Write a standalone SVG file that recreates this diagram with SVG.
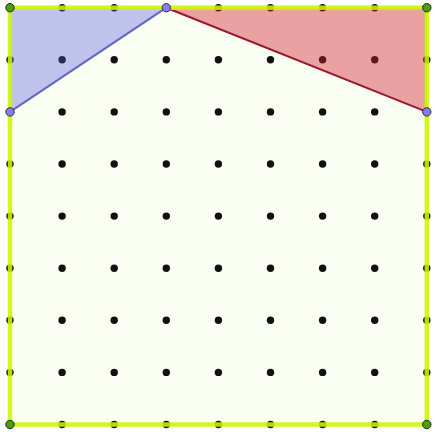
<svg xmlns="http://www.w3.org/2000/svg" width="433" height="432" viewBox="0 0 433 432">
<style>
.dot{fill:#111}
.edge{stroke:#ccf500;stroke-width:4.5;fill:none;stroke-linecap:square}
.vb{fill:#8080f0;stroke:#333;stroke-width:1}
.vg{fill:#4a9e10;stroke:#222;stroke-width:1}
circle.dot{r:3.7px}
</style>
<rect width="433" height="432" fill="#ffffff"/>
<rect id="board" x="10" y="7.7" width="416.8" height="416.8" fill="#fbfff3"/>
<g id="grid">
<g id="row0"><circle class="dot" cx="62.1" cy="7.7" r="3.7"/><circle class="dot" cx="114.2" cy="7.7" r="3.7"/><circle class="dot" cx="218.4" cy="7.7" r="3.7"/><circle class="dot" cx="270.5" cy="7.7" r="3.7"/><circle class="dot" cx="322.6" cy="7.7" r="3.7"/><circle class="dot" cx="374.7" cy="7.7" r="3.7"/></g>
<g id="rows">
<circle class="dot" cx="10" cy="59.8" r="3.7"/><circle class="dot" cx="62.1" cy="59.8" r="3.7"/><circle class="dot" cx="114.2" cy="59.8" r="3.7"/><circle class="dot" cx="166.3" cy="59.8" r="3.7"/><circle class="dot" cx="218.4" cy="59.8" r="3.7"/><circle class="dot" cx="270.5" cy="59.8" r="3.7"/><circle class="dot" cx="322.6" cy="59.8" r="3.7"/><circle class="dot" cx="374.7" cy="59.8" r="3.7"/><circle class="dot" cx="426.8" cy="59.8" r="3.7"/>
<circle class="dot" cx="62.1" cy="111.9" r="3.7"/><circle class="dot" cx="114.2" cy="111.9" r="3.7"/><circle class="dot" cx="166.3" cy="111.9" r="3.7"/><circle class="dot" cx="218.4" cy="111.9" r="3.7"/><circle class="dot" cx="270.5" cy="111.9" r="3.7"/><circle class="dot" cx="322.6" cy="111.9" r="3.7"/><circle class="dot" cx="374.7" cy="111.9" r="3.7"/>
<circle class="dot" cx="10" cy="164" r="3.7"/><circle class="dot" cx="62.1" cy="164" r="3.7"/><circle class="dot" cx="114.2" cy="164" r="3.7"/><circle class="dot" cx="166.3" cy="164" r="3.7"/><circle class="dot" cx="218.4" cy="164" r="3.7"/><circle class="dot" cx="270.5" cy="164" r="3.7"/><circle class="dot" cx="322.6" cy="164" r="3.7"/><circle class="dot" cx="374.7" cy="164" r="3.7"/><circle class="dot" cx="426.8" cy="164" r="3.7"/>
<circle class="dot" cx="10" cy="216.1" r="3.7"/><circle class="dot" cx="62.1" cy="216.1" r="3.7"/><circle class="dot" cx="114.2" cy="216.1" r="3.7"/><circle class="dot" cx="166.3" cy="216.1" r="3.7"/><circle class="dot" cx="218.4" cy="216.1" r="3.7"/><circle class="dot" cx="270.5" cy="216.1" r="3.7"/><circle class="dot" cx="322.6" cy="216.1" r="3.7"/><circle class="dot" cx="374.7" cy="216.1" r="3.7"/><circle class="dot" cx="426.8" cy="216.1" r="3.7"/>
<circle class="dot" cx="10" cy="268.2" r="3.7"/><circle class="dot" cx="62.1" cy="268.2" r="3.7"/><circle class="dot" cx="114.2" cy="268.2" r="3.7"/><circle class="dot" cx="166.3" cy="268.2" r="3.7"/><circle class="dot" cx="218.4" cy="268.2" r="3.7"/><circle class="dot" cx="270.5" cy="268.2" r="3.7"/><circle class="dot" cx="322.6" cy="268.2" r="3.7"/><circle class="dot" cx="374.7" cy="268.2" r="3.7"/><circle class="dot" cx="426.8" cy="268.2" r="3.7"/>
<circle class="dot" cx="10" cy="320.3" r="3.7"/><circle class="dot" cx="62.1" cy="320.3" r="3.7"/><circle class="dot" cx="114.2" cy="320.3" r="3.7"/><circle class="dot" cx="166.3" cy="320.3" r="3.7"/><circle class="dot" cx="218.4" cy="320.3" r="3.7"/><circle class="dot" cx="270.5" cy="320.3" r="3.7"/><circle class="dot" cx="322.6" cy="320.3" r="3.7"/><circle class="dot" cx="374.7" cy="320.3" r="3.7"/><circle class="dot" cx="426.8" cy="320.3" r="3.7"/>
<circle class="dot" cx="10" cy="372.4" r="3.7"/><circle class="dot" cx="62.1" cy="372.4" r="3.7"/><circle class="dot" cx="114.2" cy="372.4" r="3.7"/><circle class="dot" cx="166.3" cy="372.4" r="3.7"/><circle class="dot" cx="218.4" cy="372.4" r="3.7"/><circle class="dot" cx="270.5" cy="372.4" r="3.7"/><circle class="dot" cx="322.6" cy="372.4" r="3.7"/><circle class="dot" cx="374.7" cy="372.4" r="3.7"/><circle class="dot" cx="426.8" cy="372.4" r="3.7"/>
<circle class="dot" cx="62.1" cy="424.5" r="3.7"/><circle class="dot" cx="114.2" cy="424.5" r="3.7"/><circle class="dot" cx="166.3" cy="424.5" r="3.7"/><circle class="dot" cx="218.4" cy="424.5" r="3.7"/><circle class="dot" cx="270.5" cy="424.5" r="3.7"/><circle class="dot" cx="322.6" cy="424.5" r="3.7"/><circle class="dot" cx="374.7" cy="424.5" r="3.7"/>
</g>
</g>
<g id="blue-triangle">
<polygon points="10,7.7 166.3,7.7 10,111.9" fill="#5050dc" fill-opacity="0.35"/>
<line x1="166.3" y1="7.7" x2="10" y2="111.9" stroke="#6464c8" stroke-width="2"/>
</g>
<g id="red-triangle">
<polygon points="166.3,7.7 426.8,7.7 426.8,111.9" fill="#d21e32" fill-opacity="0.42"/>
<line x1="166.3" y1="7.7" x2="426.8" y2="111.9" stroke="#9a1830" stroke-width="2"/>
</g>
<g id="square-edges">
<rect class="edge" x="10" y="7.7" width="416.8" height="416.8" stroke-opacity="0.88"/>
</g>
<g id="vertices">
<circle class="vg" cx="10" cy="7.7" r="4.2"/>
<circle class="vg" cx="426.8" cy="7.7" r="4.2"/>
<circle class="vg" cx="10" cy="424.5" r="4.2"/>
<circle class="vg" cx="426.8" cy="424.5" r="4.2"/>
<circle class="vb" cx="166.3" cy="7.7" r="4.2"/>
<circle class="vb" cx="10" cy="111.9" r="4.2"/>
<circle class="vb" cx="426.8" cy="111.9" r="4.2"/>
</g>
</svg>
